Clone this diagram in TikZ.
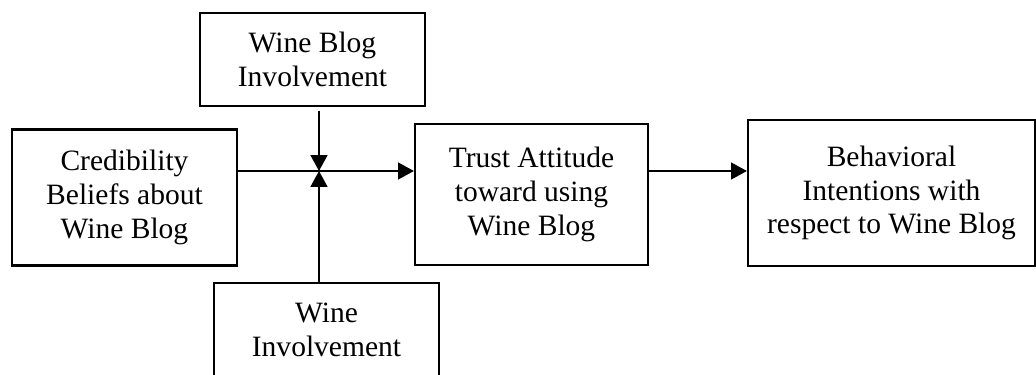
\documentclass[tikz,border=0pt]{standalone}
\usepackage{fontspec}
\setmainfont{Liberation Serif}
\usetikzlibrary{arrows.meta}

\tikzset{
  varbox/.style={draw, line width=1.2pt, align=center, inner sep=0pt,
    font=\fontsize{16.8}{19.3}\selectfont},
  link/.style={line width=1.2pt, -{Triangle[length=9pt,width=9.5pt]}}
}

\begin{document}
\begin{tikzpicture}[x=0.02cm, y=-0.02cm]
             \useasboundingbox (0,0) rectangle (1036,375);

             \node[varbox, minimum width=225*0.02cm, minimum height=93*0.02cm] (blog) at (312.5, 59.5) {Wine Blog\\Involvement};
             \node[varbox, minimum width=225*0.02cm, minimum height=136*0.02cm] (cred) at (124.5, 197.5) {Credibility\\Beliefs about\\Wine Blog};
             \node[varbox, minimum width=233*0.02cm, minimum height=141*0.02cm] (trust) at (531.5, 194.5) {Trust Attitude\\toward using\\Wine Blog};
             \node[varbox, minimum width=287*0.02cm, minimum height=146*0.02cm] (behav) at (891.5, 193) {Behavioral\\Intentions with\\respect to Wine Blog};
             \node[varbox, minimum width=225*0.02cm, minimum height=93*0.02cm] (wine) at (326.5, 329.5) {Wine\\Involvement};

             \coordinate (j) at (319, 171);

             \draw[link] (cred.east |- j) -- (trust.west |- j);
             \draw[link] (trust.east |- j) -- (behav.west |- j);
             \draw[link, shorten <=2pt] (blog.south -| j) -- (j);
             \draw[link] (wine.north -| j) -- (j);
             \end{tikzpicture}
\end{document}
